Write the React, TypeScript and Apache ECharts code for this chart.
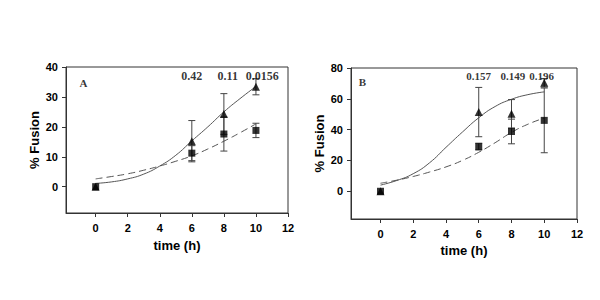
import { useEffect, useRef } from 'react';
import * as echarts from 'echarts';

// ---- data ----
const times = [0, 6, 8, 10];
const xTicks = [0, 2, 4, 6, 8, 10, 12];

// Panel A
const triA = [0, 15.2, 24.3, 33.4];
const triErrA = [0, 6.9, 6.8, 2.7];
const sqA = [0, 11.2, 17.6, 18.8];
const sqErrA = [0, 2.5, 5.7, 2.4];
const fitX = [0, 1, 2, 3, 4, 5, 6, 7, 8, 9, 10];
const solidFitA = [1.1, 1.6, 2.6, 4.2, 6.9, 10.5, 15.3, 20.0, 25.0, 29.4, 33.5];
const dashFitA = [2.6, 3.4, 4.3, 5.5, 6.9, 8.5, 10.3, 12.6, 15.2, 18.0, 21.0];
const pLabelsA = ['0.42', '0.11', '0.0156'];
const pXA = [6, 8.24, 10.4];
const pYA = 37;
const yTicksA = [0, 10, 20, 30, 40];

// Panel B
const triB = [0, 51.4, 50.3, 70.4];
const triErrB = [0, 16, 9.2, 2.8];
const sqB = [0, 29, 38.8, 46];
const sqErrB = [0, 2.2, 8, 21];
const solidFitB = [4.0, 7.0, 11.4, 18.5, 28.5, 38.4, 47.7, 55.0, 59.7, 62.7, 64.5];
const dashFitB = [5.2, 7.2, 9.6, 12.5, 15.8, 20.0, 25.3, 31.5, 38.2, 43.5, 47.5];
const pLabelsB = ['0.157', '0.149', '0.196'];
const pXB = [6, 8.08, 9.84];
const pYB = 75;
const yTicksB = [0, 20, 40, 60, 80];

const AXIS_COLOR = '#333';
const CURVE_COLOR = '#555';

const errRender = (params: any, api: any) => {
  const x = api.value(0);
  const lo = api.value(1);
  const hi = api.value(2);
  const a = api.coord([x, lo]);
  const b = api.coord([x, hi]);
  const w = 3.5;
  const style = { stroke: '#444', lineWidth: 1 };
  return {
    type: 'group',
    children: [
      { type: 'line', shape: { x1: a[0], y1: a[1], x2: b[0], y2: b[1] }, style },
      { type: 'line', shape: { x1: a[0] - w, y1: a[1], x2: a[0] + w, y2: a[1] }, style },
      { type: 'line', shape: { x1: b[0] - w, y1: b[1], x2: b[0] + w, y2: b[1] }, style },
    ],
  };
};

function errData(means: number[], errs: number[]) {
  return times
    .map((t, i) => [t, means[i] - errs[i], means[i] + errs[i]])
    .filter((_, i) => errs[i] > 0);
}

function panelSeries(
  idx: number,
  tri: number[],
  triErr: number[],
  sq: number[],
  sqErr: number[],
  solidFit: number[],
  dashFit: number[],
  pLabels: string[],
  pX: number[],
  pY: number,
  pSize: number,
  letter: string,
  letterPos: number[]
) {
  const ax = { xAxisIndex: idx, yAxisIndex: idx };
  return [
    {
      type: 'line', ...ax, smooth: true, showSymbol: false, silent: true,
      data: fitX.map((x, i) => [x, solidFit[i]]),
      lineStyle: { color: CURVE_COLOR, width: 1 }, z: 2,
    },
    {
      type: 'line', ...ax, smooth: true, showSymbol: false, silent: true,
      data: fitX.map((x, i) => [x, dashFit[i]]),
      lineStyle: { color: CURVE_COLOR, width: 1, type: [7, 4] }, z: 2,
    },
    {
      type: 'custom', ...ax, renderItem: errRender, encode: { x: 0, y: [1, 2] },
      data: errData(tri, triErr), z: 3,
    },
    {
      type: 'custom', ...ax, renderItem: errRender, encode: { x: 0, y: [1, 2] },
      data: errData(sq, sqErr), z: 3,
    },
    {
      type: 'scatter', ...ax, symbol: 'triangle', symbolSize: [8, 8],
      itemStyle: { color: '#000' }, data: times.map((t, i) => [t, tri[i]]), z: 4,
    },
    {
      type: 'scatter', ...ax, symbol: 'rect', symbolSize: 7,
      itemStyle: { color: '#000' }, data: times.map((t, i) => [t, sq[i]]), z: 5,
    },
    {
      type: 'scatter', ...ax, symbolSize: 0.1, itemStyle: { color: 'transparent' },
      data: pLabels.map((s, i) => ({ value: [pX[i], pY], name: s })),
      label: {
        show: true, position: 'inside', formatter: (p: any) => p.name,
        fontFamily: '"Liberation Serif", "Times New Roman", serif',
        fontWeight: 'bold', fontSize: pSize, color: '#000',
      },
      z: 6,
    },
    {
      type: 'scatter', ...ax, symbolSize: 0.1, itemStyle: { color: 'transparent' },
      data: [{ value: letterPos, name: letter }],
      label: {
        show: true, position: 'inside', formatter: (p: any) => p.name,
        fontFamily: '"Liberation Serif", "Times New Roman", serif',
        fontWeight: 'bold', fontSize: 11, color: '#000',
      },
      z: 6,
    },
  ];
}

const labelFont = {
  fontFamily: '"Liberation Sans", Arial, sans-serif',
  fontWeight: 'bold' as const,
  fontSize: 11,
  color: '#000',
};
const nameFont = {
  fontFamily: '"Liberation Sans", Arial, sans-serif',
  fontWeight: 'bold' as const,
  fontSize: 13,
  color: '#000',
};

function xAxis(gridIndex: number, min: number, nameGap: number) {
  return {
    type: 'value', gridIndex, min, max: 12,
    name: 'time (h)', nameLocation: 'middle', nameGap, nameTextStyle: nameFont,
    axisLine: { show: true, onZero: false, lineStyle: { color: AXIS_COLOR, width: 1 } },
    axisTick: { show: true, inside: false, length: 4, customValues: xTicks, lineStyle: { color: AXIS_COLOR } },
    axisLabel: { ...labelFont, margin: 9, customValues: xTicks },
    splitLine: { show: false },
  };
}

function yAxis(gridIndex: number, min: number, max: number, ticks: number[], nameGap: number) {
  return {
    type: 'value', gridIndex, min, max,
    name: '% Fusion', nameLocation: 'middle', nameGap, nameTextStyle: nameFont,
    axisLine: { show: true, onZero: false, lineStyle: { color: AXIS_COLOR, width: 1 } },
    axisTick: { show: true, inside: false, length: 4, customValues: ticks, lineStyle: { color: AXIS_COLOR } },
    axisLabel: { ...labelFont, margin: 8, customValues: ticks },
    splitLine: { show: false },
  };
}

export default function App() {
  const ref = useRef<HTMLDivElement>(null);
  useEffect(() => {
    if (!ref.current) return;
    const chart = echarts.init(ref.current, null, { renderer: 'svg' });
    chart.setOption({
      animation: false,
      backgroundColor: '#fff',
      grid: [
        { left: 66, top: 67, width: 222, height: 146, show: true, borderColor: AXIS_COLOR, borderWidth: 1, backgroundColor: 'transparent' },
        { left: 351, top: 68, width: 226, height: 151, show: true, borderColor: AXIS_COLOR, borderWidth: 1, backgroundColor: 'transparent' },
      ],
      xAxis: [xAxis(0, -1.85, 26), xAxis(1, -1.8, 24)],
      yAxis: [yAxis(0, -8.8, 40, yTicksA, 25), yAxis(1, -18, 80, yTicksB, 25)],
      series: [
        ...panelSeries(0, triA, triErrA, sqA, sqErrA, solidFitA, dashFitA, pLabelsA, pXA, pYA, 12, 'A', [-0.76, 34.7]),
        ...panelSeries(1, triB, triErrB, sqB, sqErrB, solidFitB, dashFitB, pLabelsB, pXB, pYB, 11, 'B', [-1.11, 70.8]),
      ],
    });
    return () => chart.dispose();
  }, []);
  return (
    <div
      ref={ref}
      style={{ position: 'fixed', left: 0, top: 0, width: 600, height: 300, background: '#fff' }}
    />
  );
}
